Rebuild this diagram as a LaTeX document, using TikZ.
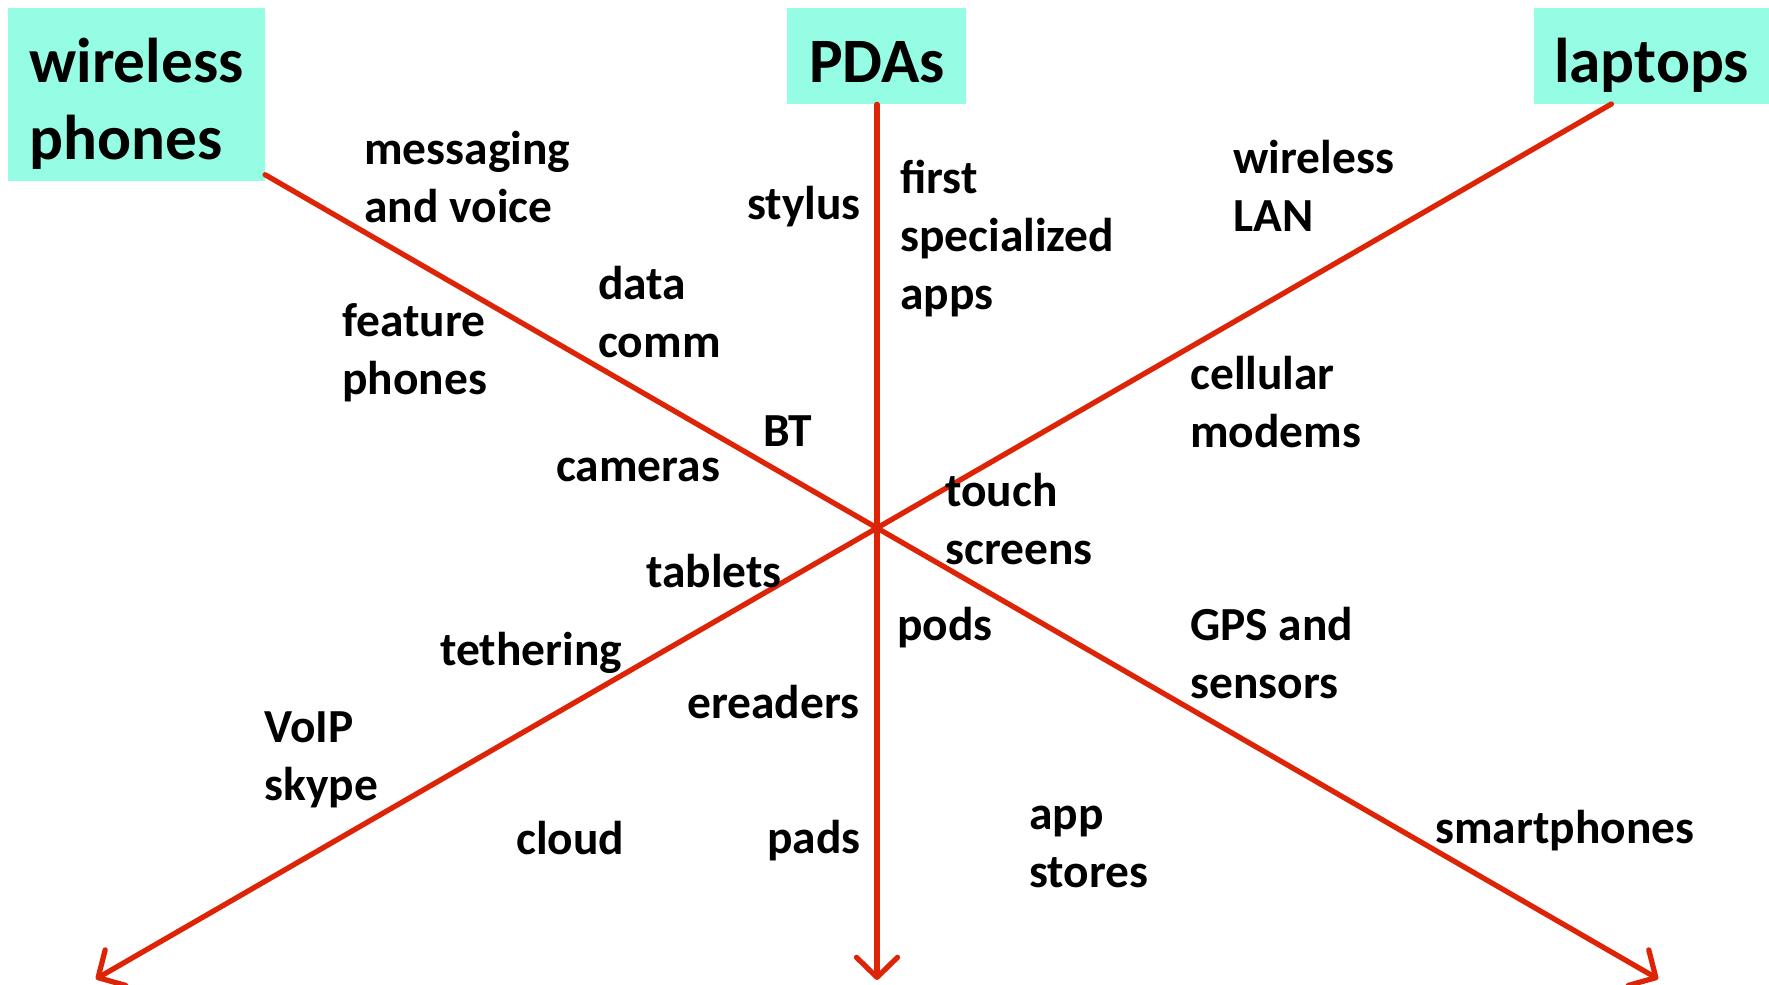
\documentclass[tikz,border=0pt]{standalone}
\usepackage{fontspec}
\setmainfont{Carlito}
\usetikzlibrary{arrows.meta}
\definecolor{mint}{RGB}{149,253,227}
\definecolor{arrred}{RGB}{222,36,6}
\newcommand{\hdstrut}[1]{\rule{0pt}{#1}}
\begin{document}
\begin{tikzpicture}[
  hd/.style={fill=mint,inner sep=0,align=left,font=\fontsize{36}{44}\selectfont\bfseries},
  lbl/.style={anchor=west,inner sep=0,align=left,font=\fontsize{27}{33}\selectfont\bfseries},
  arr/.style={draw=arrred,line width=3pt,line cap=round,line join=round,
    -{Straight Barb[length=0.4cm,width=0.82cm,line cap=round,line join=round]}}]
\useasboundingbox (-17.54,-9.14) rectangle (17.84,10.56);
% the three headings
\node (wp) at (-14.81,8.67) [hd,minimum width=5.14cm,minimum height=3.46cm] {\hdstrut{36pt}wireless\\phones};
\node (pda) at (0,9.44) [hd,minimum width=3.58cm,minimum height=1.92cm] {\hdstrut{30pt}PDAs};
\node (lap) at (15.49,9.44) [hd,minimum width=4.70cm,minimum height=1.92cm] {\hdstrut{36pt}laptops};
% ends of the three axes
\coordinate (c) at (0,0);
\coordinate (wp-f) at (150:14.13);
\coordinate (lap-f) at (30:16.96);
\coordinate (wp-t) at (-30:18.04);
\coordinate (lap-t) at (210:18.04);
\coordinate (pda-t) at (0,-9.04);
\draw [arr] (wp-f) -- (c) -- (wp-t);
\draw [arr] (pda) -- (pda-t);
\draw [arr] (lap-f) -- (c) -- (lap-t);
% labels
\node (msg) at (-10.26,7.02) [lbl] {messaging\\and voice};
\node (sty) at (-2.60,6.42) [lbl] {stylus};
\node (fsa) at (0.46,5.78) [lbl] {first\\specialized\\apps};
\node (wlan) at (7.12,6.84) [lbl] {wireless\\LAN};
\node (dc) at (-5.58,4.32) [lbl] {data\\comm};
\node (fp) at (-10.70,3.50) [lbl] {feature\\phones};
\node (cm) at (6.26,2.52) [lbl] {cellular\\modems};
\node (bt) at (-2.28,1.94) [lbl] {BT};
\node (cam) at (-6.42,1.16) [lbl] {cameras};
\node (ts) at (1.36,0.18) [lbl] {touch\\screens};
\node (tab) at (-4.62,-0.86) [lbl] {tablets};
\node (pods) at (0.40,-2.00) [lbl] {pods};
\node (gps) at (6.26,-2.50) [lbl] {GPS and\\sensors};
\node (teth) at (-8.74,-2.50) [lbl] {tethering};
\node (er) at (-3.80,-3.48) [lbl] {ereaders};
\node (voip) at (-12.26,-4.64) [lbl] {VoIP\\skype};
\node (apps) at (3.04,-6.38) [lbl] {app\\stores};
\node (cl) at (-7.22,-6.20) [lbl] {cloud};
\node (pads) at (-2.20,-6.26) [lbl] {pads};
\node (sp) at (11.16,-6.06) [lbl] {smartphones};
\end{tikzpicture}
\end{document}
